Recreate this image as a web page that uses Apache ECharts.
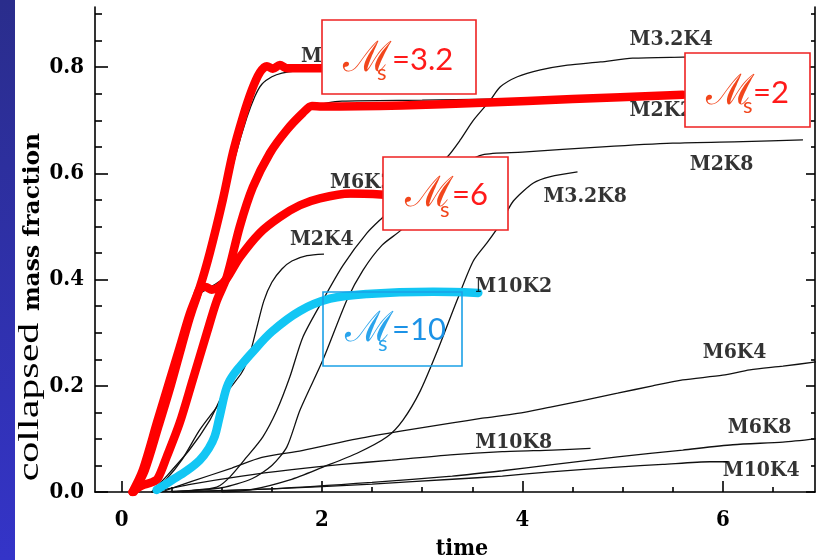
<!DOCTYPE html>
<html>
<head>
<meta charset="utf-8">
<script src="https://cdn.jsdelivr.net/npm/echarts@6/dist/echarts.min.js"></script>
<style>
  html, body { margin: 0; padding: 0; background: #fff; }
  #chart { width: 816px; height: 560px; }
</style>
</head>
<body>
<div id="chart"></div>
<script>
// Collapsed mass fraction vs. time for the sonic Mach number (M) / driving wavenumber (K) runs.
// Each run is a list of [time, fraction] points.
const m32k2 = [[0.1,0],[0.22,0.04],[0.37,0.13],[0.5,0.21],[0.6,0.27],[0.7,0.33],[0.8,0.385],[0.9,0.45],[1.03,0.55],[1.14,0.635],[1.25,0.705],[1.33,0.745],[1.4,0.768],[1.5,0.782],[1.6,0.789],[1.75,0.793],[2.0,0.795]];
const m2k2 = [[0.12,0],[0.35,0.022],[0.45,0.064],[0.58,0.128],[0.71,0.21],[0.85,0.298],[0.95,0.36],[1.05,0.405],[1.18,0.498],[1.31,0.572],[1.48,0.636],[1.65,0.68],[1.8,0.712],[1.95,0.728],[2.2,0.736],[3.0,0.738],[4.0,0.741],[5.0,0.744],[5.62,0.746]];
const m6k2 = [[0.12,0],[0.35,0.12],[0.58,0.27],[0.76,0.37],[0.85,0.382],[1.0,0.4],[1.2,0.447],[1.4,0.49],[1.6,0.52],[1.8,0.54],[2.0,0.552],[2.2,0.556],[2.45,0.557]];
const m10k2 = [[0.3,0],[0.45,0.03],[0.68,0.08],[0.88,0.135],[1.0,0.18],[1.1,0.21],[1.28,0.25],[1.48,0.295],[1.78,0.338],[2.08,0.362],[2.5,0.372],[3.1,0.376],[3.55,0.377]];
const m2k4 = [[0.3,0],[0.45,0.025],[0.6,0.06],[0.78,0.117],[0.95,0.16],[1.08,0.195],[1.2,0.225],[1.28,0.26],[1.35,0.31],[1.42,0.36],[1.5,0.395],[1.6,0.42],[1.7,0.435],[1.85,0.445],[2.02,0.448]];
const m32k4 = [[0.3,0],[0.7,0.003],[0.95,0.009],[1.08,0.028],[1.25,0.066],[1.41,0.104],[1.55,0.154],[1.68,0.217],[1.81,0.292],[2.01,0.362],[2.21,0.427],[2.45,0.488],[2.61,0.518],[2.95,0.58],[3.25,0.631],[3.38,0.663],[3.51,0.7],[3.68,0.738],[3.78,0.763],[3.95,0.782],[4.18,0.795],[4.45,0.804],[4.78,0.81],[5.1,0.817],[5.6,0.819],[6.5,0.822]];
const m6k4 = [[0.4,0],[0.7,0.02],[1.1,0.045],[1.4,0.065],[1.8,0.078],[2.35,0.1],[2.8,0.115],[3.3,0.13],[3.6,0.139],[3.95,0.148],[4.28,0.16],[4.6,0.172],[4.95,0.186],[5.3,0.2],[5.6,0.211],[6.0,0.22],[6.27,0.23],[6.6,0.237],[6.93,0.245]];
const m10k4 = [[0.5,0],[1.5,0.006],[2.5,0.015],[3.3,0.024],[3.8,0.03],[4.28,0.038],[4.95,0.047],[5.4,0.052],[5.87,0.057],[6.05,0.057]];
const m2k8 = [[0.5,0],[1.0,0.008],[1.3,0.025],[1.5,0.05],[1.65,0.085],[1.78,0.154],[2.01,0.249],[2.25,0.362],[2.41,0.418],[2.6,0.465],[2.8,0.495],[3.1,0.56],[3.35,0.61],[3.6,0.635],[4.0,0.64],[4.8,0.65],[5.5,0.657],[6.2,0.66],[6.8,0.663]];
const m32k8 = [[1.0,0],[1.28,0.004],[1.68,0.023],[2.01,0.047],[2.35,0.073],[2.65,0.104],[2.81,0.136],[2.98,0.19],[3.15,0.265],[3.35,0.362],[3.51,0.435],[3.65,0.47],[3.78,0.505],[3.91,0.548],[4.11,0.582],[4.28,0.594],[4.55,0.603]];
const m6k8 = [[0.6,0],[1.5,0.006],[2.5,0.018],[3.3,0.03],[3.8,0.04],[4.28,0.051],[4.95,0.066],[5.6,0.079],[6.1,0.089],[6.6,0.094],[6.93,0.1]];
const m10k8 = [[0.3,0],[0.7,0.015],[1.2,0.03],[1.7,0.042],[2.2,0.052],[2.7,0.06],[3.28,0.07],[3.8,0.076],[4.3,0.079],[4.68,0.082]];

// Hand-drawn highlight curves for the K=2 runs, one per Mach number.
const ms32 = [[0.11,0],[0.21,0.04],[0.36,0.135],[0.48,0.21],[0.58,0.272],[0.68,0.335],[0.78,0.385],[0.88,0.45],[1.01,0.55],[1.11,0.638],[1.21,0.706],[1.3,0.757],[1.38,0.79],[1.45,0.802],[1.51,0.797],[1.58,0.804],[1.65,0.798],[2.0,0.798]];
const ms2 = [[0.11,0],[0.2,0.012],[0.3,0.018],[0.36,0.025],[0.45,0.066],[0.58,0.13],[0.71,0.211],[0.85,0.299],[0.95,0.36],[1.05,0.405],[1.18,0.5],[1.31,0.574],[1.48,0.638],[1.65,0.682],[1.81,0.714],[1.9,0.727],[2.0,0.726],[2.8,0.728],[3.6,0.733],[4.5,0.74],[5.6,0.748]];
const ms6 = [[0.12,0],[0.23,0.04],[0.37,0.125],[0.49,0.2],[0.6,0.275],[0.68,0.328],[0.74,0.362],[0.79,0.385],[0.84,0.386],[0.9,0.381],[0.97,0.386],[1.05,0.402],[1.18,0.442],[1.38,0.488],[1.58,0.518],[1.78,0.54],[1.98,0.553],[2.28,0.562],[2.62,0.56]];
const ms10 = [[0.35,0.004],[0.5,0.022],[0.65,0.04],[0.78,0.06],[0.87,0.082],[0.93,0.105],[0.97,0.135],[1.0,0.16],[1.025,0.181],[1.05,0.197],[1.08,0.21],[1.12,0.222],[1.18,0.236],[1.3,0.262],[1.5,0.302],[1.78,0.341],[2.08,0.364],[2.45,0.373],[3.11,0.377],[3.56,0.375]];

// Run names and where they are written, in [time, fraction].
const curveLabels = [
  ['M3.2K2', 1.79, 0.82],
  ['M3.2K4', 5.07, 0.853],
  ['M2K2', 5.07, 0.719],
  ['M2K8', 5.67, 0.616],
  ['M3.2K8', 4.21, 0.556],
  ['M6K2', 2.08, 0.582],
  ['M2K4', 1.68, 0.476],
  ['M10K2', 3.53, 0.386],
  ['M6K4', 5.8, 0.262],
  ['M10K8', 3.53, 0.094],
  ['M6K8', 6.05, 0.122],
  ['M10K4', 6.0, 0.041]
];

// Axis ticks.
const xTickLabels = [0, 2, 4, 6];
const xMinorTicks = [0.5, 1, 1.5, 2.5, 3, 3.5, 4.5, 5, 5.5, 6.5];
const yTickLabels = [0, 0.2, 0.4, 0.6, 0.8];
const yMinorTicks = [0.05, 0.1, 0.15, 0.25, 0.3, 0.35, 0.45, 0.5, 0.55, 0.65, 0.7, 0.75, 0.85, 0.9];

const X_MIN = -0.265, X_MAX = 6.92, Y_MIN = 0, Y_MAX = 0.9134;
const PLOT_FONT = '"DejaVu Serif Condensed", "Liberation Mono", serif';

const chart = echarts.init(document.getElementById('chart'), null, { renderer: 'canvas' });

const thinRuns = [m32k2, m2k2, m6k2, m10k2, m2k4, m32k4, m6k4, m10k4, m2k8, m32k8, m6k8, m10k8];

function thinSeries(data) {
  return {
    type: 'line', data: data, symbol: 'none', smooth: 0.25, z: 2, silent: true,
    xAxisIndex: 0, yAxisIndex: 0,
    lineStyle: { color: '#111', width: 1.3 }
  };
}
function thickSeries(data, color, smooth) {
  return {
    type: 'line', data: data, symbol: 'none', smooth: smooth, z: 4, silent: true,
    xAxisIndex: 0, yAxisIndex: 0,
    lineStyle: { color: color, width: 8.5, cap: 'round', join: 'round' }
  };
}

function xAxisDef(show, ticks, len, labels) {
  return {
    type: 'value', min: X_MIN, max: X_MAX, position: 'bottom',
    axisLine: { show: show, onZero: false, lineStyle: { color: '#000', width: 1.6 } },
    axisTick: { show: true, inside: true, length: len, customValues: ticks, lineStyle: { color: '#000', width: 1.6 } },
    axisLabel: labels ? { show: true, customValues: labels, margin: 17, color: '#000',
      fontFamily: PLOT_FONT, fontWeight: 'bold', fontSize: 22 } : { show: false },
    splitLine: { show: false }
  };
}
function yAxisDef(pos, show, ticks, len, labels) {
  return {
    type: 'value', min: Y_MIN, max: Y_MAX, position: pos,
    axisLine: { show: show, onZero: false, lineStyle: { color: '#000', width: 1.6 } },
    axisTick: { show: true, inside: true, length: len, customValues: ticks, lineStyle: { color: '#000', width: 1.6 } },
    axisLabel: labels ? { show: true, customValues: labels, margin: 11, color: '#000',
      fontFamily: PLOT_FONT, fontWeight: 'bold', fontSize: 22,
      formatter: v => v.toFixed(1) } : { show: false },
    splitLine: { show: false }
  };
}

// Boxed Mach-number annotations: ℳ with a subscript s, then the value.
function machBox(box, m, s, v, value, strokeColor, mColor, vColor, filled) {
  return {
    type: 'group', zlevel: 1, z: 100,
    children: [
      { type: 'rect', zlevel: 1, shape: { x: box[0], y: box[1], width: box[2], height: box[3] },
        style: { fill: filled ? '#fff' : 'rgba(0,0,0,0)', stroke: strokeColor, lineWidth: 1.6 } },
      { type: 'text', zlevel: 1, x: m[0], y: m[1], style: { text: '\u2133', fill: mColor,
        font: '42px "DejaVu Serif", serif', align: 'left', verticalAlign: 'middle' } },
      { type: 'text', zlevel: 1, x: s[0], y: s[1], style: { text: 's', fill: mColor,
        font: '22px Lato, "Open Sans", sans-serif', align: 'left', verticalAlign: 'middle' } },
      { type: 'text', zlevel: 1, x: v[0], y: v[1], style: { text: value, fill: vColor,
        font: '31px Lato, "Open Sans", sans-serif', align: 'left', verticalAlign: 'middle' } }
    ]
  };
}

const option = {
  animation: false,
  backgroundColor: '#fff',
  grid: { left: 95, right: 1, top: 7, bottom: 68, containLabel: false, outerBoundsMode: 'none' },
  xAxis: [
    xAxisDef(true, xTickLabels, 11, xTickLabels),
    xAxisDef(false, xMinorTicks, 5, null)
  ],
  yAxis: [
    yAxisDef('left', true, yTickLabels, 13, yTickLabels),
    yAxisDef('left', false, yMinorTicks, 7, null),
    yAxisDef('right', true, yTickLabels, 9, null),
    yAxisDef('right', false, yMinorTicks, 4, null)
  ],
  series: [
    ...thinRuns.map(thinSeries),
    thickSeries(ms32, '#ff0000', 0.3),
    thickSeries(ms2, '#ff0000', 0.3),
    thickSeries(ms6, '#ff0000', 0.3),
    thickSeries(ms10, '#12c6f4', 0.35),
    {
      type: 'scatter', symbolSize: 0, z: 5, silent: true,
      xAxisIndex: 0, yAxisIndex: 0,
      data: curveLabels.map(l => ({ name: l[0], value: [l[1], l[2]] })),
      label: { show: true, position: [0, 0], align: 'left', verticalAlign: 'middle',
        formatter: '{b}', color: '#000', fontFamily: PLOT_FONT, fontWeight: 'bold', fontSize: 21 },
      labelLayout: { hideOverlap: false }
    }
  ],
  graphic: [
    { type: 'rect', z: 50, shape: { x: 0, y: 0, width: 15, height: 560 },
      style: { fill: new echarts.graphic.LinearGradient(0, 0, 0, 1, [
        { offset: 0, color: '#2a2d8c' }, { offset: 1, color: '#3434c8' }]) } },
    { type: 'text', z: 60, x: 30, y: 402, rotation: Math.PI / 2, scaleX: 1.4,
      style: { text: 'collapsed', fill: '#000', font: '30px "Liberation Serif", serif',
        align: 'center', verticalAlign: 'middle' } },
    { type: 'text', z: 60, x: 33, y: 222, rotation: Math.PI / 2, scaleX: 1.18,
      style: { text: 'mass fraction', fill: '#000', font: 'bold 22px ' + PLOT_FONT,
        align: 'center', verticalAlign: 'middle' } },
    { type: 'text', z: 60, x: 462, y: 549,
      style: { text: 'time', fill: '#000', font: 'bold 23px ' + PLOT_FONT,
        align: 'center', verticalAlign: 'middle' } },
    machBox([322, 20, 154, 74], [343, 60], [377, 73], [392, 60], '=3.2', '#ee2222', '#f2461c', '#ff1a1a', true),
    machBox([685, 53, 125, 74], [706, 93], [743, 106], [753, 93], '=2', '#ee2222', '#f2461c', '#ff1a1a', true),
    machBox([383, 157, 125, 73], [405, 195], [440, 210], [452, 195], '=6', '#ee2222', '#f2461c', '#ff1a1a', true),
    machBox([323, 292, 139, 74], [345, 330], [378, 344], [392, 330], '=10', '#1ba1e6', '#2aa4ec', '#1c92e6', false)
  ]
};

chart.setOption(option);
</script>
</body>
</html>
